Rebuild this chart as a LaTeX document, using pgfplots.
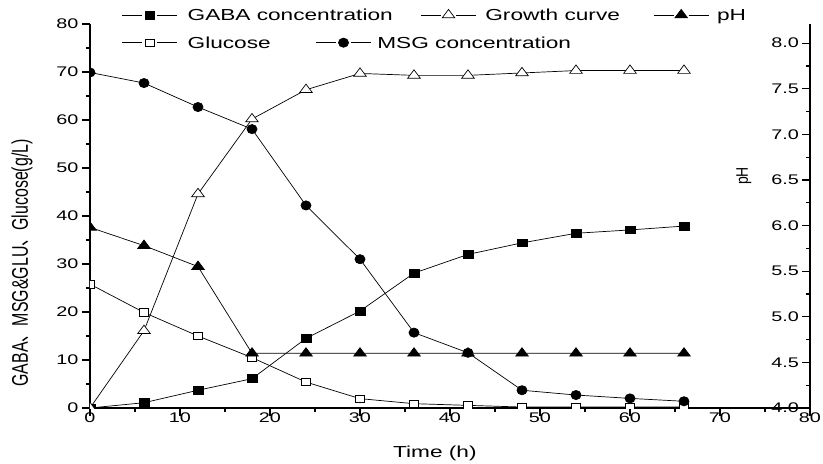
\documentclass[border=0pt]{standalone}
\usepackage{pgfplots}
\pgfplotsset{compat=1.18}
\usepackage{graphicx}
\usepackage{fontspec}
\setmainfont{Liberation Sans}[FakeStretch=1.42]
\newfontfamily\plainfont{Liberation Sans}
\newfontfamily\cjk{Noto Sans CJK SC}

\pgfplotsset{
  base/.style={black, line width=0.7bp},
  gaba/.style={base, mark=square*, mark size=3.9bp, mark options={solid, fill=black, xscale=1.25}},
  gluc/.style={base, mark=square*, mark size=3.7bp, mark options={solid, fill=white, xscale=1.3}},
  growth/.style={base, mark=triangle*, mark size=5.6bp, mark options={solid, fill=white, xscale=1.3}},
  ph/.style={base, mark=triangle*, mark size=5.6bp, mark options={solid, fill=black, xscale=1.3}},
  msg/.style={base, mark=*, mark size=4.6bp, mark options={solid, fill=black, xscale=1.1}},
  mylegend/.style={
    draw=none, fill=none, inner sep=0pt, outer sep=0pt,
    column sep=0pt, row sep=0pt,
    font=\fontsize{16}{18}\selectfont,
    nodes={inner sep=0pt, text height=11.5bp, text depth=0pt},
  },
  common/.style={
    at={(0,0)}, anchor=south west,
    scale only axis, width=720bp, height=384bp,
    xmin=0, xmax=80,
    clip marker paths=true,
    axis line style={line width=1.8bp, black},
    major tick length=8bp, minor tick length=4bp,
    tick style={line width=1.2bp, black},
    ticklabel style={font=\fontsize{14}{16}\selectfont},
    /pgf/number format/assume math mode=true,
    legend columns=-1,
    legend cell align=left,
    legend image code/.code={
      \draw (0bp,0bp) -- (20bp,0bp);
      \draw (35bp,0bp) -- (55bp,0bp);
      \draw plot coordinates {(27.5bp,0bp)};
      \path[draw=none, fill=none] (0bp,-5bp) rectangle (55bp,5bp);
    },
  },
}

\begin{document}
\begin{tikzpicture}
\begin{axis}[
  common,
  ymin=0, ymax=80,
  axis x line*=bottom, axis y line*=left,
  xtick={0,10,...,80}, ytick={0,10,...,80},
  minor x tick num=1, minor y tick num=1,
  tick align=outside,
  xticklabel style={yshift=7bp},
  xlabel={Time (h)},
  every axis x label/.style={at={(axis description cs:0.479,-0.117)}, anchor=center, font=\fontsize{16}{18}\selectfont},
  ylabel={\plainfont\fontsize{16}{18}\selectfont\scalebox{1}[1.42]{GABA{\cjk 、}MSG\&GLU{\cjk 、}Glucose(g/L)}},
  every axis y label/.style={at={(axis description cs:-0.0944,0.047)}, rotate=90, anchor=west},
  legend style={mylegend, at={(axis description cs:0.0444,0.9513)}, anchor=west},
]
\addplot[gaba, forget plot] coordinates {
  (0,0) (6,1.1) (12,3.7) (18,6.1) (24,14.5) (30,20.2) (36,28.1) (42,32.0) (48,34.4) (54,36.4) (60,37.1) (66,37.9)};
\addplot[gluc] coordinates {
  (0,25.8) (6,19.9) (12,15.0) (18,10.5) (24,5.4) (30,1.95) (36,0.9) (42,0.55) (48,0.2) (54,0.2) (60,0.2) (66,0.2)};
\addlegendentry{\hspace*{10bp}\makebox[128bp][l]{Glucose}}
\addplot[growth, forget plot] coordinates {
  (0,0) (6,16.1) (12,44.6) (18,60.2) (24,66.3) (30,69.7) (36,69.3) (42,69.3) (48,69.8) (54,70.3) (60,70.3) (66,70.3)};
\addplot[msg] coordinates {
  (0,69.9) (6,67.7) (12,62.7) (18,58.1) (24,42.2) (30,31.0) (36,15.7) (42,11.5) (48,3.7) (54,2.7) (60,2.0) (66,1.4)};
\addlegendentry{\hspace*{6bp}MSG concentration}
\end{axis}

\begin{axis}[
  common,
  ymin=4, ymax=8.21,
  axis x line=none, axis y line*=right,
  ytick={4,4.5,...,8}, minor y tick num=1,
  tick align=inside,
  yticklabel style={anchor=east, xshift=-7.5bp,
    /pgf/number format/.cd, fixed, fixed zerofill, precision=1, assume math mode=true},
  ylabel={\plainfont\fontsize{14}{16}\selectfont\scalebox{1}[1.2]{pH}},
  every axis y label/.style={at={(axis description cs:0.9083,0.6042)}, rotate=90, anchor=center},
  legend style={mylegend, at={(axis description cs:0.0444,1.0234)}, anchor=west},
]
\addlegendimage{gaba}
\addlegendentry{\hspace*{10bp}\makebox[233bp][l]{GABA concentration}}
\addlegendimage{growth}
\addlegendentry{\hspace*{9bp}\makebox[168bp][l]{Growth curve}}
\addplot[ph] coordinates {
  (0,5.98) (6,5.78) (12,5.55) (18,4.60) (24,4.60) (30,4.60) (36,4.60) (42,4.60) (48,4.60) (54,4.60) (60,4.60) (66,4.60)};
\addlegendentry{\hspace*{8bp}pH}
\end{axis}
\pgfresetboundingbox
\path (-90bp,-56bp) rectangle (733bp,408bp);
\end{tikzpicture}
\end{document}
